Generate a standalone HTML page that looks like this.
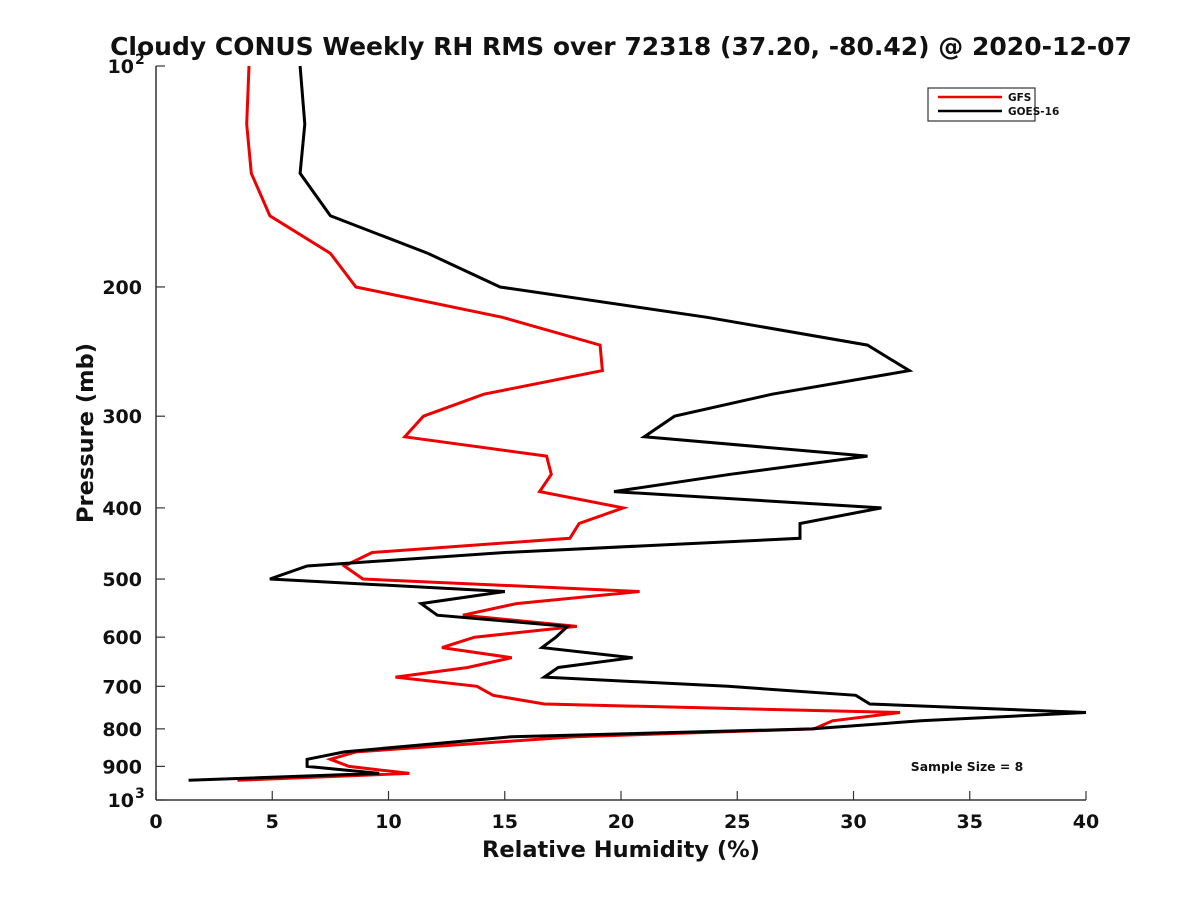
<!DOCTYPE html>
<html><head><meta charset="utf-8"><style>
html,body{margin:0;padding:0;background:#fff;}
svg text{font-family:"DejaVu Sans","Liberation Sans",sans-serif;font-weight:bold;fill:#111;}
</style></head><body>
<svg id="chart" width="1200" height="900" xmlns="http://www.w3.org/2000/svg">
<rect width="1200" height="900" fill="#fff"/>
<text x="621" y="55" font-size="25" text-anchor="middle">Cloudy CONUS Weekly RH RMS over 72318 (37.20, -80.42) @ 2020-12-07</text>
<g id="axes"></g>
<g id="series"></g>
<text x="621" y="857" font-size="22.5" text-anchor="middle">Relative Humidity (%)</text>
<text transform="translate(93,433) rotate(-90)" font-size="22.5" text-anchor="middle">Pressure (mb)</text>
<g>
<rect x="928" y="88" width="107" height="33" fill="#fff" stroke="#333" stroke-width="1.2"/>
<line x1="938" y1="97" x2="1002" y2="97" stroke="#e00" stroke-width="2.5"/>
<text x="1008" y="101" font-size="10.5">GFS</text>
<line x1="938" y1="111" x2="1002" y2="111" stroke="#000" stroke-width="2.5"/>
<text x="1008" y="115" font-size="10.5">GOES-16</text>
</g>
<text x="967" y="771" font-size="12.4" text-anchor="middle">Sample Size = 8</text>
</svg>
<script>
const pressures=[100,120,140,160,180,200,220,240,260,280,300,320,340,360,380,400,420,440,460,480,500,520,540,560,580,600,620,640,660,680,700,720,740,760,780,800,820,860,880,900,920,940];
const goes=[6.2,6.4,6.2,7.5,11.7,14.8,23.7,30.6,32.4,26.5,22.3,21.0,30.6,24.7,19.7,31.2,27.7,27.7,15.0,6.5,4.9,15.0,11.4,12.1,17.7,17.2,16.6,20.5,17.3,16.7,24.6,30.1,30.7,40.0,32.9,28.2,15.3,8.1,6.5,6.5,9.6,1.4];
const gfs=[4.0,3.9,4.1,4.9,7.5,8.6,14.9,19.1,19.2,14.1,11.5,10.7,16.8,17.0,16.5,20.1,18.2,17.8,9.3,8.1,8.9,20.8,15.5,13.2,18.1,13.7,12.3,15.3,13.4,10.3,13.8,14.5,16.7,32.0,29.1,28.3,18.0,8.6,7.5,8.3,10.9,3.5];
const xTicks=[0,5,10,15,20,25,30,35,40];
const yTicks=[100,200,300,400,500,600,700,800,900,1000];
const NS="http://www.w3.org/2000/svg";
const X0=156,X1=1086,Y0=66,Y1=800;
const xs=v=>X0+(v/40)*(X1-X0);
const ys=p=>Y0+Math.log10(p/100)*(Y1-Y0);
function mk(tag,attrs,parent){const e=document.createElementNS(NS,tag);for(const k in attrs)e.setAttribute(k,attrs[k]);parent.appendChild(e);return e;}
const axes=document.getElementById('axes');
const xl=mk('line',{x1:X0,y1:Y1,x2:X1,y2:Y1,stroke:'#333','stroke-width':1.5},axes);


const yl=mk('line',{x1:X0,y1:Y0,x2:X0,y2:Y1,stroke:'#333','stroke-width':1.5},axes);


xTicks.forEach(t=>{
  mk('line',{x1:xs(t),y1:Y1,x2:xs(t),y2:Y1-9,stroke:'#333','stroke-width':1.2},axes);
  const tx=mk('text',{x:xs(t),y:Y1+28,'font-size':19,'text-anchor':'middle'},axes);
  tx.textContent=t;
  
  
});
yTicks.forEach(t=>{
  const y=ys(t);
  mk('line',{x1:X0,y1:y,x2:X0+9,y2:y,stroke:'#333','stroke-width':1.2},axes);
  const tx=mk('text',{x:X0-14,y:y+7,'font-size':19,'text-anchor':'end'},axes);
  if(t===100||t===1000){
    tx.textContent='10';
    const s=mk('tspan',{dy:-9,'font-size':14},tx);s.textContent=(t===100?'2':'3');
    tx.setAttribute('x',X0-22);
    s.setAttribute('x',X0-21);
    s.setAttribute('text-anchor','start');
  } else tx.textContent=t;
  
  
});
const ser=document.getElementById('series');
function line(vals,color,name){
  const d=vals.map((v,i)=>(i?'L':'M')+xs(v).toFixed(1)+','+ys(pressures[i]).toFixed(1)).join(' ');
  const p=mk('path',{d:d,fill:'none',stroke:color,'stroke-width':3,'stroke-linejoin':'miter'},ser);
  
  
}
line(gfs,'#e00','gfs-line');
line(goes,'#000','goes16-line');
</script>
</body></html>
